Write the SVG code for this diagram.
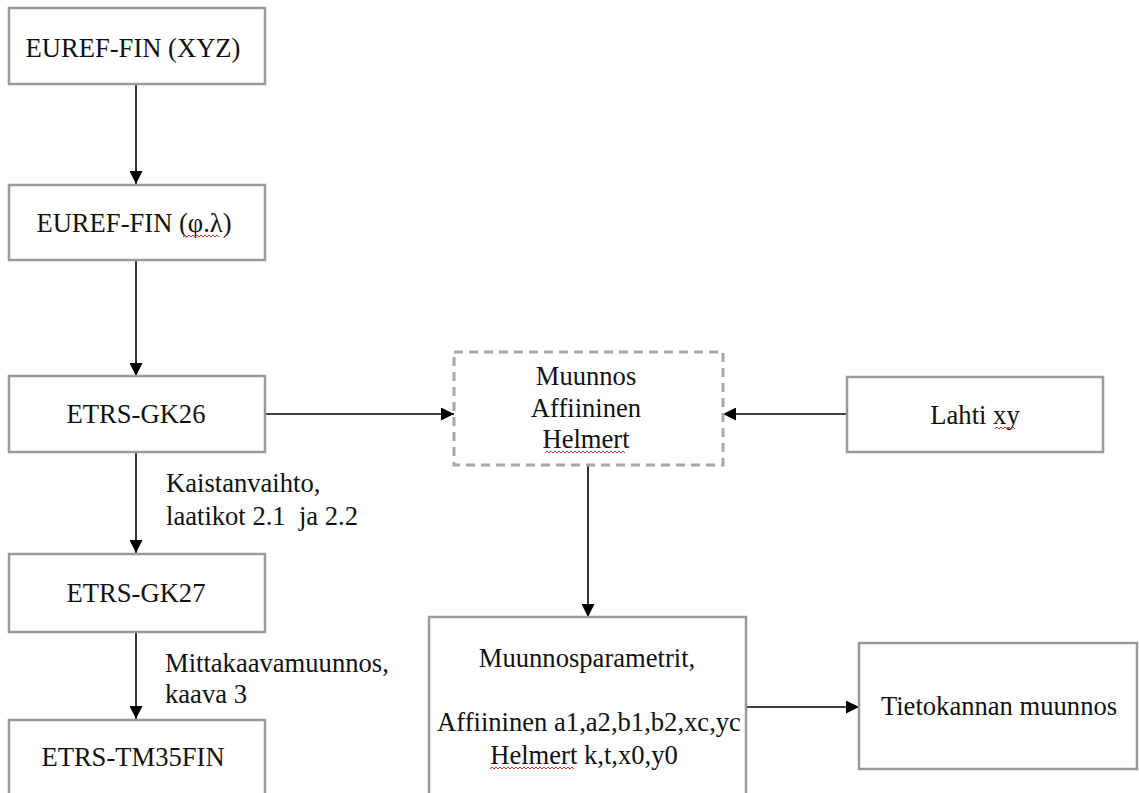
<svg xmlns="http://www.w3.org/2000/svg" width="1139" height="793" viewBox="0 0 1139 793">
<style>
.box{fill:#fff;stroke:#9a9a9a;stroke-width:2.5}
.dash{fill:#fff;stroke:#a8a8a8;stroke-width:3;stroke-dasharray:9 6}
.t{font-size:26.6px;fill:#111}
.c{text-anchor:middle}
.ln{stroke:#000;stroke-width:1.6;fill:none}
.sq{stroke:#e03030;stroke-width:1;fill:none}
</style>
<defs>
<marker id="ah" viewBox="0 0 13 13" refX="13" refY="6.5" markerWidth="13" markerHeight="13" markerUnits="userSpaceOnUse" orient="auto">
<path d="M0,0 L13,6.5 L0,13 Z" fill="#000"/>
</marker>
</defs>
<rect width="1139" height="793" fill="#fff"/>
<g font-family="Liberation Serif, Tinos, DejaVu Serif, serif">
<g id="connectors">
<line class="ln" x1="136" y1="85" x2="136" y2="184" marker-end="url(#ah)"/>
<line class="ln" x1="136" y1="261" x2="136" y2="376" marker-end="url(#ah)"/>
<line class="ln" x1="136" y1="453" x2="136" y2="553" marker-end="url(#ah)"/>
<line class="ln" x1="136" y1="633" x2="136" y2="719" marker-end="url(#ah)"/>
<line class="ln" x1="266" y1="414" x2="454" y2="414" marker-end="url(#ah)"/>
<line class="ln" x1="846" y1="414" x2="723" y2="414" marker-end="url(#ah)"/>
<line class="ln" x1="588" y1="466" x2="588" y2="617" marker-end="url(#ah)"/>
<line class="ln" x1="747" y1="707" x2="859" y2="707" marker-end="url(#ah)"/>
<text class="t" x="166" y="492">Kaistanvaihto,</text>
<text class="t" x="166" y="525" xml:space="preserve">laatikot 2.1  ja 2.2</text>
<text class="t" x="165" y="672">Mittakaavamuunnos,</text>
<text class="t" x="165" y="703">kaava 3</text>
</g>
<g id="n1">
<rect class="box" x="9" y="8" width="256" height="76"/>
<text class="t c" x="133" y="57">EUREF-FIN (XYZ)</text>
</g>
<g id="n2">
<rect class="box" x="9" y="185" width="256" height="75"/>
<text class="t c" x="134" y="232">EUREF-FIN (φ.λ)</text>
<path class="sq" d="M183,237 l2,-2 l2,2 l2,-2 l2,2 l2,-2 l2,2 l2,-2 l2,2 l2,-2 l2,2 l2,-2 l2,2 l2,-2 l2,2 l2,-2 l2,2 l2,-2 l2,2"/>
</g>
<g id="n3">
<rect class="box" x="9" y="376" width="256" height="76"/>
<text class="t c" x="136" y="423">ETRS-GK26</text>
</g>
<g id="n4">
<rect class="box" x="9" y="554" width="256" height="78"/>
<text class="t c" x="136" y="602">ETRS-GK27</text>
</g>
<g id="n5">
<rect class="box" x="9" y="720" width="256" height="90"/>
<text class="t c" x="133" y="766">ETRS-TM35FIN</text>
</g>
<g id="n6">
<rect class="dash" x="454" y="352" width="269" height="113"/>
<text class="t c" x="586" y="385">Muunnos</text>
<text class="t c" x="586" y="417">Affiininen</text>
<text class="t c" x="586" y="448">Helmert</text>
<path class="sq" d="M545,453 l2,-2 l2,2 l2,-2 l2,2 l2,-2 l2,2 l2,-2 l2,2 l2,-2 l2,2 l2,-2 l2,2 l2,-2 l2,2 l2,-2 l2,2 l2,-2 l2,2 l2,-2 l2,2 l2,-2 l2,2 l2,-2 l2,2 l2,-2 l2,2 l2,-2 l2,2 l2,-2 l2,2 l2,-2 l2,2 l2,-2 l2,2 l2,-2 l2,2 l2,-2 l2,2 l2,-2 l2,2"/>
</g>
<g id="n7">
<rect class="box" x="847" y="377" width="256" height="75"/>
<text class="t c" x="975" y="424">Lahti xy</text>
<path class="sq" d="M995,429 l2,-2 l2,2 l2,-2 l2,2 l2,-2 l2,2 l2,-2 l2,2 l2,-2 l2,2"/>
</g>
<g id="n8">
<rect class="box" x="429" y="617" width="317" height="200"/>
<text class="t c" x="587" y="667">Muunnosparametrit,</text>
<text class="t c" x="589" y="731">Affiininen a1,a2,b1,b2,xc,yc</text>
<text class="t c" x="584" y="764">Helmert k,t,x0,y0</text>
<path class="sq" d="M490,769 l2,-2 l2,2 l2,-2 l2,2 l2,-2 l2,2 l2,-2 l2,2 l2,-2 l2,2 l2,-2 l2,2 l2,-2 l2,2 l2,-2 l2,2 l2,-2 l2,2 l2,-2 l2,2 l2,-2 l2,2 l2,-2 l2,2 l2,-2 l2,2 l2,-2 l2,2 l2,-2 l2,2 l2,-2 l2,2 l2,-2 l2,2 l2,-2 l2,2 l2,-2 l2,2 l2,-2 l2,2 l2,-2 l2,2"/>
</g>
<g id="n9">
<rect class="box" x="859" y="643" width="278" height="126"/>
<text class="t c" x="999" y="715">Tietokannan muunnos</text>
</g>
</g>
</svg>
